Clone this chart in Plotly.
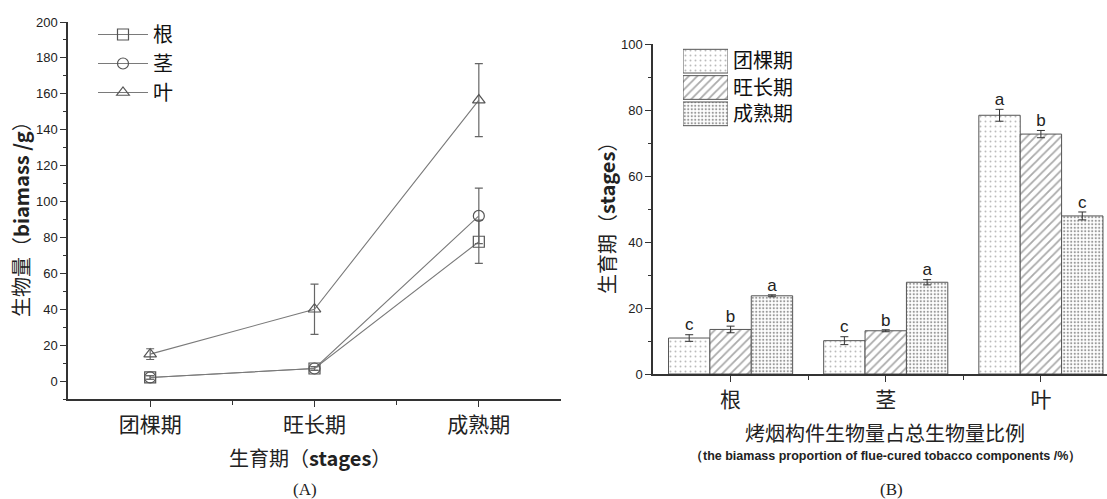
import plotly.graph_objects as go

# ---------------- data ----------------
stages = ["团棵期", "旺长期", "成熟期"]
organs = ["根", "茎", "叶"]

# (A) biomass (g)
root_mass = [2, 7, 77.6]
root_err = [1, 1, 12]
stem_mass = [2, 7, 92]
stem_err = [1, 1, 15.5]
leaf_mass = [15, 40, 156.5]
leaf_err = [3, 14, 20.3]

# (B) proportion (%) per stage, by organ
prop_tuanke = [10.9, 10.1, 78.4]
err_tuanke = [1.0, 1.2, 1.8]
prop_wangzhang = [13.5, 13.1, 72.7]
err_wangzhang = [1.0, 0.3, 1.1]
prop_chengshu = [23.7, 27.8, 47.9]
err_chengshu = [0.3, 0.8, 1.2]
letters_tuanke = ["c", "c", "a"]
letters_wangzhang = ["b", "b", "b"]
letters_chengshu = ["a", "a", "c"]

W, H = 1107, 499
CJK = "Noto Sans CJK SC"
NUM = "Liberation Sans"

def px_x(p):
    return p / W

def px_y(p):
    return 1 - p / H

fig = go.Figure()

# ---------------- (A) lines ----------------
xs = list(range(len(stages)))
line_col = "#7a7a7a"
for name, vals, errs, sym in [("根", root_mass, root_err, "square-open"),
                              ("茎", stem_mass, stem_err, "circle-open"),
                              ("叶", leaf_mass, leaf_err, "triangle-up-open")]:
    fig.add_trace(go.Scatter(
        x=xs, y=vals, name=name, mode="lines+markers",
        line=dict(color=line_col, width=1.1),
        marker=dict(symbol=sym, size=11, color="#555", line=dict(width=1.2, color="#555")),
        error_y=dict(type="data", array=errs, color="#666", thickness=1.2, width=4),
        xaxis="x", yaxis="y", showlegend=True, legend="legend"))

# ---------------- (B) bars ----------------
xb = list(range(len(organs)))
bar_specs = [
    ("团棵期", prop_tuanke, err_tuanke, dict(shape=".", size=5, solidity=0.12, fgcolor="#777", bgcolor="white")),
    ("旺长期", prop_wangzhang, err_wangzhang, dict(shape="/", size=6, solidity=0.3, fgcolor="#555", bgcolor="white")),
    ("成熟期", prop_chengshu, err_chengshu, dict(shape=".", size=3.5, solidity=0.32, fgcolor="#333", bgcolor="white")),
]
for name, vals, errs, pat in bar_specs:
    fig.add_trace(go.Bar(
        x=xb, y=vals, name=name,
        marker=dict(color="white", pattern=pat, line=dict(color="#555", width=1)),
        error_y=dict(type="data", array=errs, color="#333", thickness=1, width=4),
        xaxis="x2", yaxis="y2", showlegend=False))

# significance letters
group_w = 0.8
n = len(bar_specs)
for i, (vals, errs, lets) in enumerate([(prop_tuanke, err_tuanke, letters_tuanke),
                                        (prop_wangzhang, err_wangzhang, letters_wangzhang),
                                        (prop_chengshu, err_chengshu, letters_chengshu)]):
    off = (i - (n - 1) / 2) * group_w / n
    fig.add_trace(go.Scatter(
        x=[x + off for x in xb], y=[v + e for v, e in zip(vals, errs)],
        mode="text", text=lets, textposition="top center",
        textfont=dict(family=NUM, size=17, color="#222"),
        xaxis="x2", yaxis="y2", showlegend=False, hoverinfo="skip"))

# custom legend for (B) with patterned swatches
fig.add_trace(go.Bar(
    x=[1] * len(stages), y=list(range(len(stages))), orientation="h", width=0.9,
    marker=dict(color="white",
                pattern=dict(shape=[s[3]["shape"] for s in bar_specs],
                             size=[s[3]["size"] for s in bar_specs],
                             solidity=[s[3]["solidity"] for s in bar_specs],
                             fgcolor=[s[3]["fgcolor"] for s in bar_specs],
                             bgcolor="white"),
                line=dict(color="#555", width=1)),
    xaxis="x3", yaxis="y3", showlegend=False, hoverinfo="skip"))

axis_common = dict(showline=True, linecolor="#333", linewidth=1.5, ticks="outside",
                   ticklen=6, tickwidth=1.3, tickcolor="#333", showgrid=False, zeroline=False,
                   automargin=False,
                   tickfont=dict(family=NUM, size=13, color="#222"))

def ann(text, x, y, size, family=CJK, angle=0):
    return dict(text=text, x=px_x(x), y=px_y(y), xref="paper", yref="paper",
                xanchor="center", yanchor="middle", textangle=angle, showarrow=False,
                font=dict(family=family, size=size, color="#222"))

fig.update_layout(
    width=W, height=H, margin=dict(l=0, r=0, t=0, b=0, autoexpand=False),
    paper_bgcolor="white", plot_bgcolor="white",
    barmode="group", bargap=0.2, bargroupgap=0,
    xaxis=dict(domain=[px_x(68), px_x(561)], range=[-0.5, 2.5], anchor="y",
               tickvals=xs, ticktext=stages,
               minor=dict(tickvals=[0.5, 1.5], ticks="outside", ticklen=4, tickcolor="#333"),
               **{**axis_common, "tickfont": dict(family=CJK, size=21, color="#222")}),
    yaxis=dict(domain=[px_y(399), px_y(22)], range=[-10, 200], anchor="x",
               tickvals=list(range(0, 201, 20)),
               minor=dict(dtick=10, tick0=0, ticks="outside", ticklen=3, tickcolor="#333"),
               **axis_common),
    xaxis2=dict(domain=[px_x(653), 1.0], range=[-0.5, 2.426], anchor="y2",
                tickvals=xb, ticktext=organs,
                minor=dict(tickvals=[0.5, 1.5], ticks="outside", ticklen=4, tickcolor="#333"),
                **{**axis_common, "tickfont": dict(family=CJK, size=21, color="#222")}),
    yaxis2=dict(domain=[px_y(374), px_y(44)], range=[0, 100], anchor="x2",
                tickvals=list(range(0, 101, 20)),
                minor=dict(dtick=10, tick0=0, ticks="outside", ticklen=3, tickcolor="#333"),
                **axis_common),
    xaxis3=dict(domain=[px_x(683), px_x(728)], range=[0, 1], anchor="y3",
                visible=False, fixedrange=True, automargin=False),
    yaxis3=dict(domain=[px_y(127), px_y(48)], range=[2.5, -0.5], anchor="x3", side="right",
                tickvals=list(range(len(stages))), ticktext=stages, showline=False, ticks="",
                showgrid=False, zeroline=False, ticklabelstandoff=4, automargin=False,
                tickfont=dict(family=CJK, size=20, color="#111")),
    legend=dict(x=px_x(93), y=px_y(15), xanchor="left", yanchor="top",
                font=dict(family=CJK, size=20, color="#111"), itemwidth=50,
                tracegroupgap=0, bgcolor="rgba(0,0,0,0)", borderwidth=0),
    annotations=[
        ann("生物量（<b>biamass /g</b>）", 20, 214, 20, angle=-90),
        ann("生育期（<b>stages</b>）", 310, 457, 20),
        ann("(A)", 305, 489, 17, family="Liberation Serif"),
        ann("生育期（<b>stages</b>）", 606, 213, 20, angle=-90),
        ann("烤烟构件生物量占总生物量比例", 885, 432, 20),
        ann("<b>（the biamass proportion of flue-cured tobacco components /%）</b>", 885, 456, 12.5, family=NUM),
        ann("(B)", 891, 489, 17, family="Liberation Serif"),
    ],
)

fig.write_html("out.html", config={"displayModeBar": False},
               post_script="document.body.style.margin='0';document.body.style.overflow='hidden';")
